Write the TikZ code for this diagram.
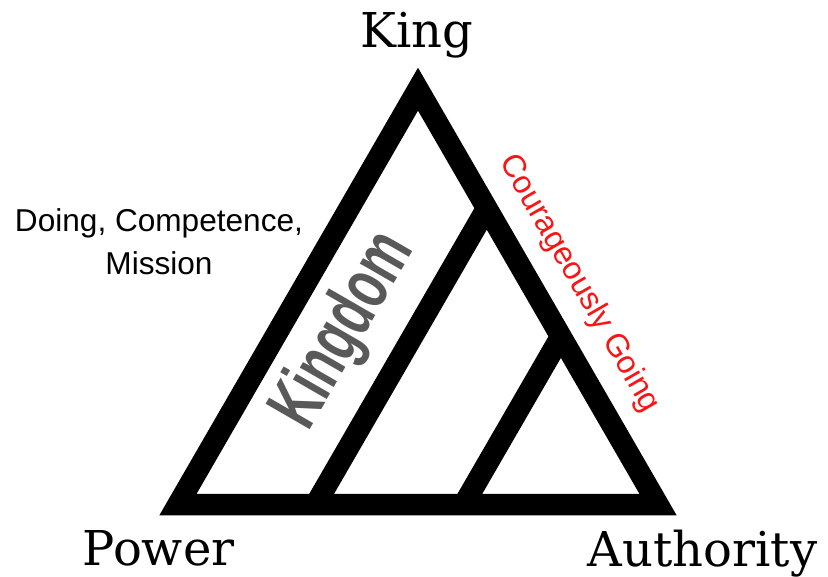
\documentclass[tikz,border=0pt]{standalone}
\usepackage{fontspec}
\setmainfont{DejaVu Serif}
\newfontfamily\lsans{Liberation Sans}
\definecolor{kgray}{RGB}{89,89,89}
\definecolor{cred}{RGB}{250,20,20}
\begin{document}
\begin{tikzpicture}[x=1pt,y=-1pt,
  frame/.style={line width=21.5pt,line join=miter,black},
  corner/.style={font=\fontsize{48}{50}\selectfont,inner sep=0pt,anchor=base},
  side/.style={font=\lsans\fontsize{31.6}{42.5}\selectfont,inner sep=0pt,anchor=base}]
\useasboundingbox (0,0) rectangle (828,577);
\coordinate (T) at (418,89.2);
\coordinate (L) at (178,504.5);
\coordinate (R) at (658,504.5);
\coordinate (b1) at (315.5,504.5);
\coordinate (t1) at (486.8,208.2);
\coordinate (b2) at (463.7,504.5);
\coordinate (t2) at (560.9,336.4);
\draw[frame] (T) -- (L) -- (R) -- cycle;
\draw[frame] (b1) -- (t1);
\draw[frame] (b2) -- (t2);
\node[corner] (king) at (417,48) {King};
\node[corner] (power) at (158.5,565) {Power};
\node[corner] (auth) at (702.5,566) {Authority};
\node[side,align=center] (doing) at (159,274.5) {Doing, Competence,\\Mission};
\node[inner sep=0pt,anchor=base,rotate=60,text=kgray,font=\lsans\bfseries\fontsize{74}{76}\selectfont] (kingdom) at (361,341) {\scalebox{0.66}[1]{Kingdom}};
\node[side,font=\lsans\fontsize{32}{34}\selectfont,rotate=-60,text=cred] (going) at (572,288) {Courageously Going};
\end{tikzpicture}
\end{document}
